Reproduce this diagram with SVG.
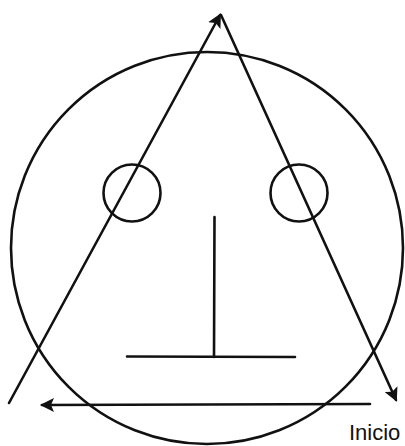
<svg xmlns="http://www.w3.org/2000/svg" width="405" height="446" viewBox="0 0 405 446">
<style>
.ln{fill:none;stroke:#111;stroke-width:2.6;stroke-linecap:round}
.txt{font-family:"Liberation Sans",Arial,sans-serif;font-size:22px;fill:#111}
</style>
<defs>
<marker id="ahL" markerWidth="14" markerHeight="14" refX="12" refY="7" orient="auto" markerUnits="userSpaceOnUse" viewBox="0 0 14 14">
<path d="M0,0 L14,7 L0,14 L3,7 Z" fill="#111"/>
</marker>
</defs>
<rect width="405" height="446" fill="#fff"/>
<g id="face">
<circle class="ln" cx="207" cy="248" r="196"/>
</g>
<g id="eye-left">
<circle class="ln" cx="132" cy="193" r="28.5"/>
</g>
<g id="eye-right">
<circle class="ln" cx="299" cy="193" r="28.5"/>
</g>
<g id="nose">
<line class="ln" x1="214.5" y1="217" x2="214" y2="357"/>
</g>
<g id="mouth">
<line class="ln" x1="127" y1="356.5" x2="295" y2="357"/>
</g>
<g id="connectors">
<line class="ln" x1="9" y1="403" x2="220" y2="15" marker-end="url(#ahL)"/>
<line class="ln" x1="221" y1="15" x2="396" y2="400" marker-end="url(#ahL)"/>
<line class="ln" x1="370" y1="404" x2="42" y2="405" marker-end="url(#ahL)"/>
</g>
<g id="label">
<text class="txt" x="349" y="440">Inicio</text>
</g>
</svg>
